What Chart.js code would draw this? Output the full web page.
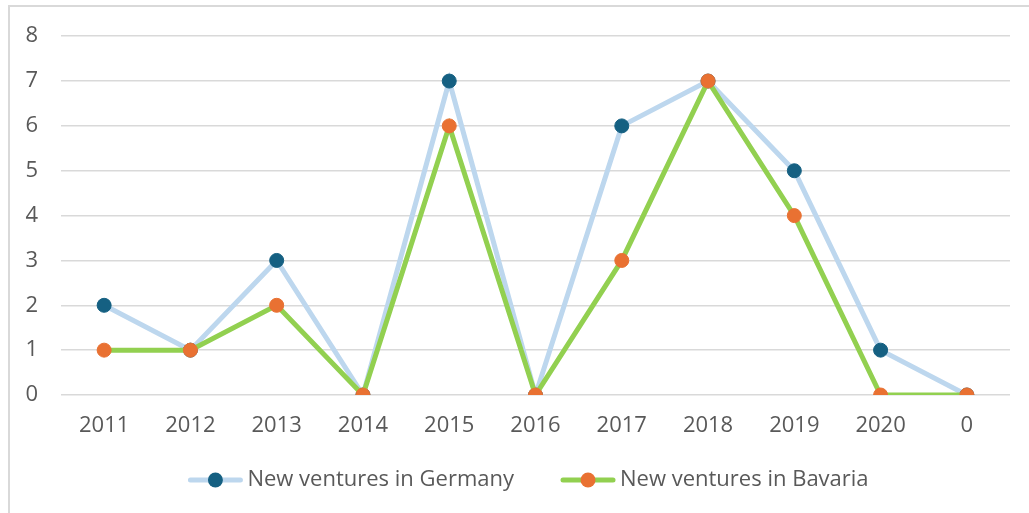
<!DOCTYPE html>
<html lang="en">
<head>
<meta charset="UTF-8">
<title>New ventures</title>
<script src="https://cdn.jsdelivr.net/npm/chart.js"></script>
<style>
    body { margin: 0; background: #fff; overflow: hidden; }
    .wrap { position: relative; width: 1029px; height: 513px; }
    .frame {
        position: absolute; left: 8px; top: 5px; width: 1100px; height: 600px;
        border: 2px solid #d9d9d9; pointer-events: none;
    }
</style>
</head>
<body>
<div class="wrap">
    <canvas id="chart"></canvas>
    <div class="frame"></div>
</div>
<script>
    // data
    const years = ["2011", "2012", "2013", "2014", "2015", "2016", "2017", "2018", "2019", "2020", "0"];
    const germany = [2, 1, 3, 0, 7, 0, 6, 7, 5, 1, 0];
    const bavaria = [1, 1, 2, 0, 6, 0, 3, 7, 4, 0, 0];
    const yMin = 0, yMax = 8, yStep = 1;

    const textColor = "#595959";
    const fontFamily = "'Open Sans', sans-serif";
    const fontSize = 22;

    // legend drawn like the office one: line with a dot in the middle, then text
    const lineLegend = {
        id: "lineLegend",
        afterDraw(chart) {
            const ctx = chart.ctx;
            const sets = chart.data.datasets;
            const iconW = 56, textGap = 4, itemGap = 46;
            ctx.save();
            ctx.font = fontSize + "px " + fontFamily;
            const widths = sets.map(ds => ctx.measureText(ds.label).width);
            let total = 0;
            widths.forEach((w, i) => { total += iconW + textGap + w + (i ? itemGap : 0); });
            let x = 528 - total / 2;
            const y = 480;
            sets.forEach((ds, i) => {
                ctx.strokeStyle = ds.borderColor;
                ctx.lineWidth = 5;
                ctx.lineCap = "round";
                ctx.beginPath();
                ctx.moveTo(x + 3, y);
                ctx.lineTo(x + iconW - 3, y);
                ctx.stroke();
                ctx.fillStyle = ds.pointBackgroundColor;
                ctx.beginPath();
                ctx.arc(x + iconW / 2, y, 7.5, 0, Math.PI * 2);
                ctx.fill();
                ctx.fillStyle = textColor;
                ctx.textBaseline = "middle";
                ctx.textAlign = "left";
                ctx.fillText(ds.label, x + iconW + textGap, y);
                x += iconW + textGap + widths[i] + itemGap;
            });
            ctx.restore();
        }
    };

    const chart = new Chart(document.getElementById("chart"), {
        type: "line",
        data: {
            labels: years,
            datasets: [
                {
                    label: "New ventures in Germany",
                    data: germany,
                    borderColor: "#bdd7ee",
                    borderWidth: 5,
                    pointBackgroundColor: "#156082",
                    pointBorderColor: "#156082",
                    pointRadius: 7,
                    pointBorderWidth: 1,
                    tension: 0,
                    order: 1
                },
                {
                    label: "New ventures in Bavaria",
                    data: bavaria,
                    borderColor: "#92d050",
                    borderWidth: 5,
                    pointBackgroundColor: "#e97132",
                    pointBorderColor: "#e97132",
                    pointRadius: 7,
                    pointBorderWidth: 1,
                    tension: 0,
                    order: 0
                }
            ]
        },
        options: {
            responsive: true,
            maintainAspectRatio: false,
            animation: false,
            layout: { padding: { top: 35, left: 0, right: 19, bottom: 73 } },
            plugins: {
                tooltip: { enabled: false },
                legend: { display: false }
            },
            scales: {
                x: {
                    offset: true,
                    grid: { display: false },
                    border: { display: false },
                    ticks: { color: textColor, font: { family: fontFamily, size: fontSize }, padding: 10, maxRotation: 0 },
                    afterFit: s => { s.height = 45; }
                },
                y: {
                    min: yMin,
                    max: yMax,
                    grid: { color: "#d9d9d9", lineWidth: 1.5, drawTicks: false },
                    border: { display: false },
                    ticks: { stepSize: yStep, color: textColor, font: { family: fontFamily, size: fontSize }, padding: 23 },
                    afterFit: s => { s.width = 61; }
                }
            }
        },
        plugins: [lineLegend]
    });
</script>
</body>
</html>
